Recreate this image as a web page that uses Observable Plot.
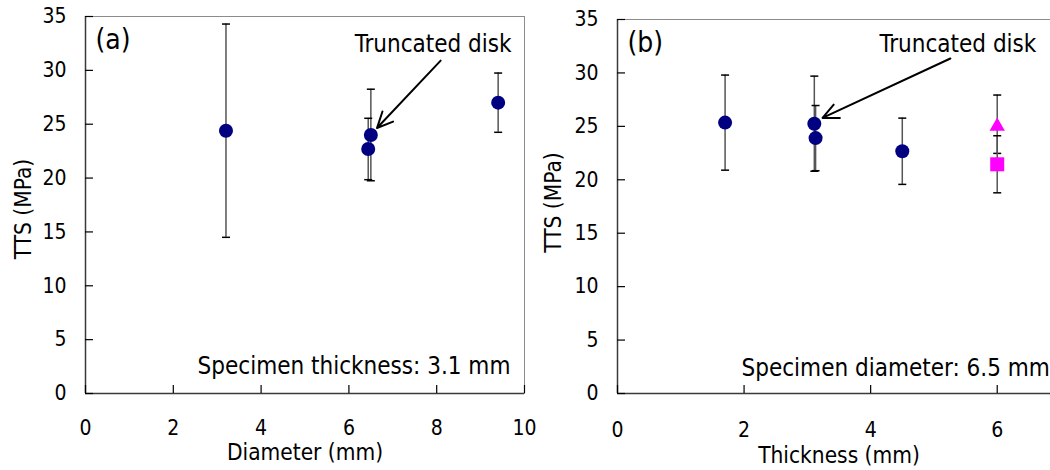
<!DOCTYPE html>
<html>
<head>
<meta charset="utf-8">
<script src="https://cdn.jsdelivr.net/npm/d3@7"></script>
<script src="https://cdn.jsdelivr.net/npm/@observablehq/plot@0.6"></script>
<style>
  html, body { margin: 0; padding: 0; background: #fff; width: 1050px; height: 470px; overflow: hidden; }
  #wrap { position: relative; width: 1050px; height: 470px; overflow: hidden; }
  .panel { position: absolute; top: 0; height: 470px; }
  .panel svg { max-width: none !important; height: 470px !important; display: block; }
  #pa { left: 0; width: 530px; }
  #pb { left: 530px; width: 540px; }
</style>
</head>
<body>
<div id="wrap">
  <div id="pa" class="panel"></div>
  <div id="pb" class="panel"></div>
</div>
<script>
// ---------- data: panel (a) TTS vs diameter ----------
const diamX   = [3.2, 6.44, 6.5, 9.4];
const diamTTS = [24.4, 22.7, 24.0, 27.0];
const diamErr = [9.9, 2.85, 4.25, 2.75];

// ---------- data: panel (b) TTS vs thickness ----------
const thickX   = [1.7, 3.11, 3.13, 4.5];
const thickTTS = [25.35, 25.25, 23.9, 22.67];
const thickErr = [4.45, 4.45, 3.05, 3.1];
const triX = [6], triTTS = [25.2], triErr = [2.73];
const sqX  = [6], sqTTS  = [21.45], sqErr = [2.67];

// ---------- ticks & labels ----------
const xTicksA = [0, 2, 4, 6, 8, 10];
const xTicksB = [0, 2, 4, 6];
const yTicks  = [0, 5, 10, 15, 20, 25, 30, 35];
const xDomainA = [0, 10];
const xDomainB = [0, 7];
const yDomain  = [0, 35];
const yLabel = "TTS (MPa)";
const xLabelA = "Diameter (mm)";
const xLabelB = "Thickness (mm)";
const tagA = "(a)", tagB = "(b)";
const noteText = "Truncated disk";
const specA = "Specimen thickness: 3.1 mm";
const specB = "Specimen diameter: 6.5 mm";

// annotation anchors (data units)
const noteA  = [{x: 7.92, y: 32.4}];
const noteB  = [{x: 5.38, y: 32.7}];
const arrowA = [{x1: 8.09, y1: 30.9, x2: 6.64, y2: 24.65}];
const arrowB = [{x1: 5.26, y1: 31.35, x2: 3.24, y2: 25.79}];
const specPosA = [{x: 9.68, y: 2.55}];
const specPosB = [{x: 1.96, y: 2.4}];

const FONT = "'DejaVu Sans Condensed', 'DejaVu Sans', sans-serif";
const rows = (xs, ys, es) => xs.map((x, i) => ({x, y: ys[i], lo: ys[i] - es[i], hi: ys[i] + es[i]}));

const capSymbol = {
  draw(context, size) {
    const w = Math.sqrt(size / Math.PI);
    context.moveTo(-w, 0);
    context.lineTo(w, 0);
  }
};

function errorMarks(data) {
  return [
    Plot.ruleX(data, {x: "x", y1: "lo", y2: "hi", stroke: "#555", strokeWidth: 1.5}),
    Plot.dot(data, {x: "x", y: "hi", symbol: capSymbol, r: 4, stroke: "#000", strokeWidth: 1.5, fill: "none"}),
    Plot.dot(data, {x: "x", y: "lo", symbol: capSymbol, r: 4, stroke: "#000", strokeWidth: 1.5, fill: "none"})
  ];
}

function panel({width, height, mL, mR, mT, mB, xDomain, xTicks, xLabel, tag, series, note, arrow, spec, specAnchor, specText, yLabDy, xLabDy, xTickDy}) {
  const plotW = width - mL - mR;
  const plotH = height - mT - mB;
  return Plot.plot({
    width, height,
    marginLeft: mL, marginRight: mR, marginTop: mT, marginBottom: mB,
    style: {fontFamily: FONT, fontSize: "21px", color: "#000", background: "transparent", overflow: "visible"},
    x: {domain: xDomain, label: null, axis: null},
    y: {domain: yDomain, label: null, axis: null},
    marks: [
      Plot.frame({stroke: "#8c8c8c", strokeWidth: 1}),
      Plot.ruleY([0], {stroke: "#3a3a3a", strokeWidth: 1.5}),
      Plot.ruleX([0], {stroke: "#3a3a3a", strokeWidth: 1.5}),
      Plot.tickY(yTicks, {y: d => d, insetRight: plotW - 8, stroke: "#000", strokeWidth: 1.2}),
      Plot.tickX(xTicks, {x: d => d, insetTop: plotH - 8, stroke: "#000", strokeWidth: 1.2}),
      // tick labels
      Plot.text(yTicks, {x: () => xDomain[0], y: d => d, text: d => String(d), dx: -19, textAnchor: "end", lineAnchor: "middle", fontSize: 21}),
      Plot.text(xTicks, {x: d => d, text: d => String(d), frameAnchor: "bottom", dy: xTickDy, textAnchor: "middle", lineAnchor: "middle", fontSize: 21}),
      // axis titles
      Plot.text([yLabel], {text: d => d, frameAnchor: "left", rotate: -90, dx: -(mL - 23), dy: yLabDy, textAnchor: "middle", lineAnchor: "middle", fontSize: 22.5}),
      Plot.text([xLabel], {text: d => d, frameAnchor: "bottom", dy: xLabDy, textAnchor: "middle", lineAnchor: "middle", fontSize: 22.5}),
      ...series,
      Plot.text([tag], {text: d => d, frameAnchor: "top-left", dx: 10, dy: 24, textAnchor: "start", lineAnchor: "middle", fontSize: 28}),
      Plot.text(note, {x: "x", y: "y", text: () => noteText, textAnchor: "middle", lineAnchor: "middle", fontSize: 24}),
      Plot.arrow(arrow, {x1: "x1", y1: "y1", x2: "x2", y2: "y2", stroke: "#000", strokeWidth: 2, headLength: 13, headAngle: 50}),
      Plot.text(spec, {x: "x", y: "y", text: () => specText, textAnchor: specAnchor, lineAnchor: "middle", fontSize: 24})
    ]
  });
}

const dataA = rows(diamX, diamTTS, diamErr);
const dataB = rows(thickX, thickTTS, thickErr);
const dataTri = rows(triX, triTTS, triErr);
const dataSq = rows(sqX, sqTTS, sqErr);

const navy = "#000080", magenta = "#ff00ff";

const plotA = panel({
  width: 530, height: 470, mL: 85, mR: 6, mT: 16, mB: 77,
  xDomain: xDomainA, xTicks: xTicksA, xLabel: xLabelA, tag: tagA,
  series: [
    ...errorMarks(dataA),
    Plot.dot(dataA, {x: "x", y: "y", r: 7, fill: navy})
  ],
  note: noteA, arrow: arrowA, spec: specPosA, specAnchor: "end", specText: specA,
  yLabDy: 4, xLabDy: 59.5, xTickDy: 35
});

const plotB = panel({
  width: 540, height: 470, mL: 87, mR: 10, mT: 19, mB: 77,
  xDomain: xDomainB, xTicks: xTicksB, xLabel: xLabelB, tag: tagB,
  series: [
    ...errorMarks(dataB),
    ...errorMarks(dataTri),
    ...errorMarks(dataSq),
    Plot.dot(dataB, {x: "x", y: "y", r: 7, fill: navy}),
    Plot.dot(dataTri, {x: "x", y: "y", r: 5.7, symbol: "triangle", fill: magenta, dy: 2.2}),
    Plot.dot(dataSq, {x: "x", y: "y", r: 7.9, symbol: "square", fill: magenta})
  ],
  note: noteB, arrow: arrowB, spec: specPosB, specAnchor: "start", specText: specB,
  yLabDy: -4, xLabDy: 62, xTickDy: 37
});

document.getElementById("pa").appendChild(plotA);
document.getElementById("pb").appendChild(plotB);
</script>
</body>
</html>
